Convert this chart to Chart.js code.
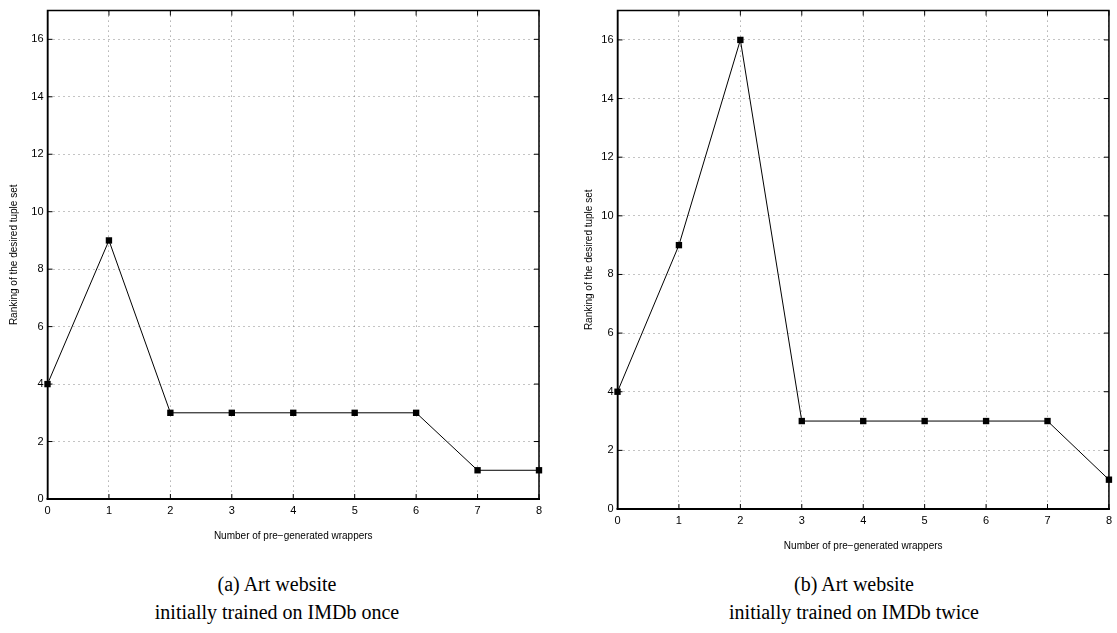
<!DOCTYPE html>
<html>
<head>
<meta charset="utf-8">
<script src="https://cdn.jsdelivr.net/npm/chart.js@4.4.0/dist/chart.umd.min.js"></script>
<style>
  body { margin: 0; background: #fff; width: 1117px; height: 633px; position: relative; overflow: hidden; }
  .wrap { position: absolute; top: 0; }
  .caption {
    position: absolute; width: 400px; text-align: center;
    font-family: "Liberation Serif", "Times New Roman", serif; font-size: 20px; color: #000; line-height: 28px;
  }
</style>
</head>
<body>
<div class="wrap" style="left:0; width:560px; height:545px;"><canvas id="chartA"></canvas></div>
<div class="wrap" style="left:570px; width:547px; height:555px;"><canvas id="chartB"></canvas></div>
<div class="caption" style="left:77px; top:570px;">(a) Art website<br>initially trained on IMDb once</div>
<div class="caption" style="left:654px; top:570px;">(b) Art website<br>initially trained on IMDb twice</div>

<script>
//////// Data ////////
const wrapperCounts = ["0", "1", "2", "3", "4", "5", "6", "7", "8"];
const rankingOnce = [4, 9, 3, 3, 3, 3, 3, 1, 1];
const rankingTwice = [4, 9, 16, 3, 3, 3, 3, 3, 1];
const yTicks = [0, 2, 4, 6, 8, 10, 12, 14, 16];

const xTitle = "Number of pre\u2212generated wrappers";
const yTitle = "Ranking of the desired tuple set";

//////// Box + inner tick marks (matlab style) ////////
const boxPlugin = {
  id: "box",
  afterDraw(chart) {
    const { ctx, chartArea: a, scales } = chart;
    ctx.save();
    ctx.setLineDash([]);
    ctx.strokeStyle = "#000";
    ctx.lineWidth = 1;
    scales.y.ticks.forEach((t) => {
      const py = scales.y.getPixelForValue(t.value);
      ctx.beginPath();
      ctx.moveTo(a.left, py); ctx.lineTo(a.left + 5, py);
      ctx.moveTo(a.right, py); ctx.lineTo(a.right - 5, py);
      ctx.stroke();
    });
    scales.x.ticks.forEach((t, i) => {
      const px = scales.x.getPixelForTick(i);
      ctx.beginPath();
      ctx.moveTo(px, a.bottom); ctx.lineTo(px, a.bottom - 5);
      ctx.moveTo(px, a.top); ctx.lineTo(px, a.top + 5);
      ctx.stroke();
    });
    // frame
    ctx.lineWidth = 1.5;
    ctx.beginPath();
    ctx.moveTo(a.left, a.bottom); ctx.lineTo(a.left, a.top);
    ctx.lineTo(a.right, a.top); ctx.lineTo(a.right, a.bottom);
    ctx.stroke();
    ctx.lineWidth = 2;
    ctx.beginPath();
    ctx.moveTo(a.left - 1, a.bottom); ctx.lineTo(a.right + 1, a.bottom);
    ctx.stroke();
    ctx.restore();
  },
};

const makeChart = function (id, values, padRight, yTitlePad) {
  return new Chart(document.getElementById(id), {
    type: "line",
    data: {
      labels: wrapperCounts,
      datasets: [
        {
          data: values,
          borderColor: "#000",
          borderWidth: 1,
          backgroundColor: "#000",
          pointStyle: "rect",
          pointRadius: 4.5,
          pointBorderWidth: 0,
          tension: 0,
          clip: false,
        },
      ],
    },
    options: {
      responsive: true,
      maintainAspectRatio: false,
      animation: false,
      layout: { padding: { top: 10, right: padRight, left: 0, bottom: 0 } },
      plugins: { legend: { display: false }, tooltip: { enabled: false } },
      scales: {
        x: {
          offset: false,
          afterFit: (s) => { s.height = 46; },
          grid: { color: "#888", drawTicks: false, lineWidth: 1 },
          border: { color: "#000", width: 2, dash: [1, 4] },
          ticks: { color: "#000", padding: 5, maxRotation: 0, font: { family: "Liberation Sans", size: 11 } },
          title: { display: true, text: xTitle, color: "#000", padding: { top: 0, bottom: 3 }, font: { family: "Liberation Sans", size: 10 } },
        },
        y: {
          min: 0,
          max: 17,
          afterFit: (s) => { s.width = 47.5; },
          afterBuildTicks: (s) => { s.ticks = yTicks.map((v) => ({ value: v })); },
          grid: { color: "#888", drawTicks: false, lineWidth: 1 },
          border: { color: "#000", width: 1.5, dash: [1, 4] },
          ticks: { color: "#000", padding: 4, font: { family: "Liberation Sans", size: 11 } },
          title: { display: true, text: yTitle, color: "#000", padding: { top: yTitlePad, bottom: 0 }, font: { family: "Liberation Sans", size: 10 } },
        },
      },
    },
    plugins: [boxPlugin],
  });
};

makeChart("chartA", rankingOnce, 21, 8);
makeChart("chartB", rankingTwice, 2, 13);
</script>
</body>
</html>
